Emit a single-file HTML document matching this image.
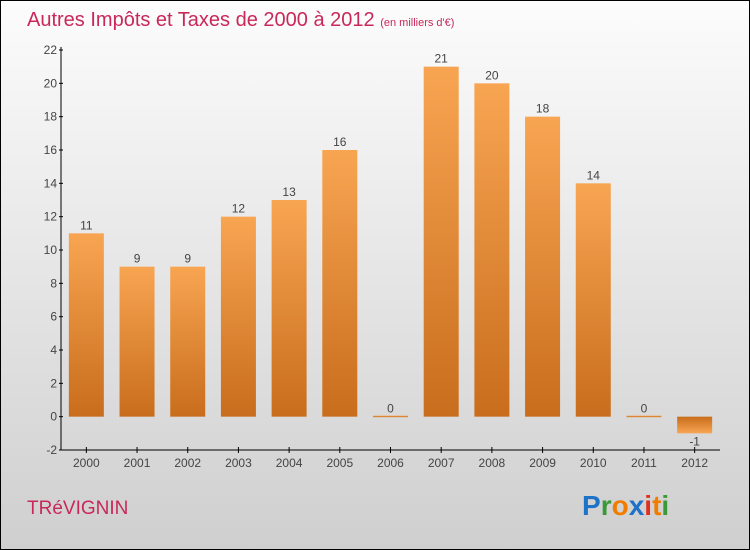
<!DOCTYPE html>
<html><head><meta charset="utf-8"><style>
body{margin:0}
#c{position:relative;width:748px;height:548px;border:1px solid #000;background:linear-gradient(#fcfcfc,#cfcfcf);font-family:"Liberation Sans",sans-serif;overflow:hidden}
svg{position:absolute;left:-1px;top:-1px}
</style></head><body>
<div id="c">
<svg id="s" width="750" height="550">
<defs>
<linearGradient id="g" x1="0" y1="0" x2="0" y2="1"><stop offset="0" stop-color="#f8a552"/><stop offset="1" stop-color="#c86d1c"/></linearGradient>
<linearGradient id="gn" x1="0" y1="0" x2="0" y2="1"><stop offset="0" stop-color="#c86d1c"/><stop offset="1" stop-color="#f8a552"/></linearGradient>
</defs>
<text x="27" y="26" font-size="20" fill="#c8285a">Autres Impôts et Taxes de 2000 à 2012 <tspan font-size="11">(en milliers d'€)</tspan></text>
<text x="27" y="514" font-size="19" fill="#c8285a">TRéVIGNIN</text>
<g font-size="28" font-weight="bold" font-family="Liberation Sans, sans-serif">
<text x="582" y="515"><tspan fill="#1e73c8">P</tspan><tspan fill="#3a9a3a">r</tspan><tspan fill="#f07d00">o</tspan><tspan fill="#1e73c8">x</tspan><tspan fill="#e03020">i</tspan><tspan fill="#f07d00">t</tspan><tspan fill="#3a9a3a">i</tspan></text>
</g>
</svg>
</div>
<script>
const years=["2000","2001","2002","2003","2004","2005","2006","2007","2008","2009","2010","2011","2012"];
const values=[11,9,9,12,13,16,0,21,20,18,14,0,-1];
const yTicks=[-2,0,2,4,6,8,10,12,14,16,18,20,22];
const s=document.getElementById('s');
const NS='http://www.w3.org/2000/svg';
const x0=61,x1=720,yMin=-2,yMax=22,yTop=50,yBot=450;
const band=(x1-x0)/years.length;
function xc(i){return x0+band*(i+0.5);}
function y(v){return yBot-(v-yMin)/(yMax-yMin)*(yBot-yTop);}
function mk(t,a){const e=document.createElementNS(NS,t);for(const k in a)e.setAttribute(k,a[k]);s.appendChild(e);return e;}
let e=mk('line',{x1:x0,y1:yTop-3,x2:x0,y2:yBot,stroke:'#000'});


e=mk('line',{x1:x0,y1:yBot,x2:x1,y2:yBot,stroke:'#000'});


yTicks.forEach(v=>{
 const t=mk('line',{x1:x0-2,y1:y(v),x2:x0+2,y2:y(v),stroke:'#000'});
 
 
 const l=mk('text',{x:x0-4,y:y(v)+4,'font-size':12,fill:'#444','text-anchor':'end'});
 l.textContent=v;
 
 
});
years.forEach((yr,i)=>{
 const cx=xc(i),v=values[i],w=35;
 const t=mk('line',{x1:cx,y1:yBot-3,x2:cx,y2:yBot+3,stroke:'#000'});
 
 
 const l=mk('text',{x:cx,y:yBot+17,'font-size':12,fill:'#444','text-anchor':'middle'});
 l.textContent=yr;
 
 
 const top=Math.min(y(v),y(0)),h=Math.max(Math.abs(y(v)-y(0)),1.5);
 const b=mk('rect',{x:cx-w/2,y:v===0?y(0)-1:top,width:w,height:h,fill:v<0?'url(#gn)':'url(#g)'});
 
 
 const vl=mk('text',{x:cx,y:v<0?y(v)+12:y(v)-4,'font-size':12,fill:'#444','text-anchor':'middle'});
 vl.textContent=v;
 
 
});
</script>
</body></html>
